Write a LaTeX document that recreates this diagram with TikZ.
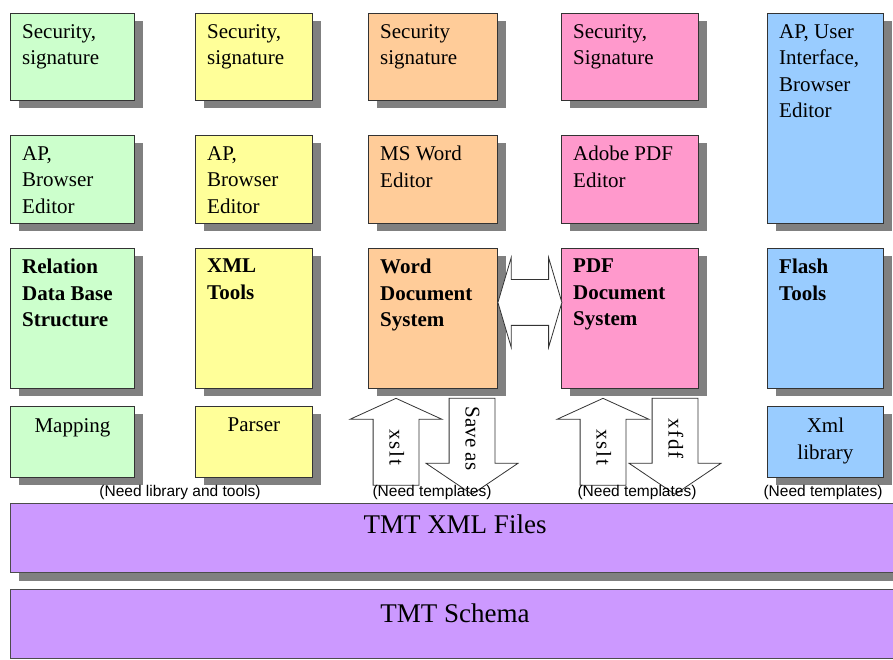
\documentclass[tikz,border=0pt]{standalone}
\usepackage{fontspec}
\setmainfont{Liberation Serif}
\newfontfamily\notefont{Liberation Sans}
\usetikzlibrary{positioning, shadows, shapes.arrows}

\definecolor{grn}{HTML}{CCFFCC}
\definecolor{ylw}{HTML}{FFFF99}
\definecolor{org}{HTML}{FFCC99}
\definecolor{pnk}{HTML}{FF99CC}
\definecolor{blu}{HTML}{99CCFF}
\definecolor{prp}{HTML}{CC99FF}

\tikzset{
  cell/.style={draw=black!80, line width=0.9pt, fill=#1, anchor=north west, inner sep=0pt,
    drop shadow={shadow xshift=9pt, shadow yshift=-8pt, fill=black!50, opacity=1}},
  txt/.style={font=\fontsize{21}{26.5}\selectfont, align=left, inner sep=0pt},
  btxt/.style={txt, font=\fontsize{21}{26.5}\selectfont\bfseries},
  big/.style={font=\fontsize{27}{32}\selectfont, inner sep=0pt},
  note/.style={font=\notefont\fontsize{15.5}{18}\selectfont, inner sep=0pt},
  bar/.style={draw=black!70, line width=1pt, fill=prp, anchor=north west, inner sep=0pt,
    minimum width=890pt, minimum height=69pt},
  blk/.style={draw=black!80, line width=0.8pt, fill=white, rotate=-90, inner xsep=2pt,
    inner ysep=16pt, text height=13pt, text depth=0pt, font=\fontsize{21}{24}\selectfont},
  uparr/.style={blk, single arrow, shape border rotate=180, single arrow head extend=23pt,
    single arrow tip angle=131, minimum height=87pt, anchor=tip},
  dnarr/.style={blk, single arrow, single arrow head extend=23pt,
    single arrow tip angle=112, minimum height=96pt, anchor=tail},
  dblarr/.style={double arrow, draw=black!80, line width=0.8pt, fill=white, inner xsep=0pt,
    inner ysep=22.5pt, text height=0pt, text depth=0pt, minimum height=64pt,
    double arrow head extend=22pt, double arrow tip angle=147}
}

\begin{document}
\begin{tikzpicture}[x=1pt, y=-1pt]
\useasboundingbox (0,0) rectangle (893,660);
\clip (0,0) rectangle (893,660);

% boxes, column by column
\foreach \c/\x/\w/\col in {g/10/124/grn, y/195/117/ylw, o/368/129/org, p/561/137/pnk}{
  \node[cell=\col, minimum width=\w pt, minimum height=87pt] (\c1) at (\x,13) {};
  \node[cell=\col, minimum width=\w pt, minimum height=88pt] (\c2) at (\x,135) {};
  \node[cell=\col, minimum width=\w pt, minimum height=140pt] (\c3) at (\x,248) {};
}
\node[cell=grn, minimum width=124pt, minimum height=71pt] (g4) at (10,406) {};
\node[cell=ylw, minimum width=117pt, minimum height=71pt] (y4) at (195,406) {};
\node[cell=blu, minimum width=116pt, minimum height=210pt] (b1) at (767,13) {};
\node[cell=blu, minimum width=116pt, minimum height=140pt] (b3) at (767,248) {};
\node[cell=blu, minimum width=116pt, minimum height=71pt] (b4) at (767,406) {};

% box texts
\node[txt, below right=11pt and 12pt of g1.north west] (g1t) {Security,\\signature};
\node[txt, below right=11pt and 12pt of y1.north west] (y1t) {Security,\\signature};
\node[txt, below right=11pt and 12pt of o1.north west] (o1t) {Security\\signature};
\node[txt, below right=11pt and 12pt of p1.north west] (p1t) {Security,\\Signature};
\node[txt, below right=11pt and 12pt of b1.north west] (b1t) {AP, User\\Interface,\\Browser\\Editor};
\node[txt, below right=11pt and 12pt of g2.north west] (g2t) {AP,\\Browser\\Editor};
\node[txt, below right=11pt and 12pt of y2.north west] (y2t) {AP,\\Browser\\Editor};
\node[txt, below right=11pt and 12pt of o2.north west] (o2t) {MS Word\\Editor};
\node[txt, below right=11pt and 12pt of p2.north west] (p2t) {Adobe PDF\\Editor};
\node[btxt, below right=11pt and 12pt of g3.north west] (g3t) {Relation\\Data Base\\Structure};
\node[btxt, below right=11pt and 12pt of y3.north west] (y3t) {XML\\Tools};
\node[btxt, below right=11pt and 12pt of o3.north west] (o3t) {Word\\Document\\System};
\node[btxt, below right=11pt and 12pt of p3.north west] (p3t) {PDF\\Document\\System};
\node[btxt, below right=11pt and 12pt of b3.north west] (b3t) {Flash\\Tools};
\node[txt, align=center, below=12pt of g4.north] (g4t) {Mapping};
\node[txt, align=center, below=12pt of y4.north] (y4t) {Parser};
\node[txt, align=center, below=12pt of b4.north] (b4t) {Xml\\library};

% block arrows
\node[dblarr] (link) at ([xshift=32pt, yshift=16pt]o3.east) {};
\node[uparr] (oup) at ([xshift=28pt, yshift=-9pt]o3.south west) {\addfontfeature{LetterSpace=9}xslt};
\node[dnarr] (odn) at ([xshift=104pt, yshift=-9pt]o3.south west) {Save as};
\node[uparr] (pup) at ([xshift=42pt, yshift=-9pt]p3.south west) {\addfontfeature{LetterSpace=9}xslt};
\node[dnarr] (pdn) at ([xshift=114pt, yshift=-9pt]p3.south west) {\addfontfeature{LetterSpace=9}xfdf};

% notes
\node[note] (n1) at (180,492) {(Need library and tools)};
\node[note] (n2) at (432,492) {(Need templates)};
\node[note] (n3) at (637,492) {(Need templates)};
\node[note] (n4) at (823,492) {(Need templates)};

% base layers
\node[bar, drop shadow={shadow xshift=8pt, shadow yshift=-8pt, fill=black!50, opacity=1}] (xml) at (10,503) {};
\node[bar] (schema) at (10,589) {};
\node[big, anchor=base] (xmlt) at (455,533) {TMT XML Files};
\node[big, anchor=base] (schemat) at (455,622) {TMT Schema};
\end{tikzpicture}
\end{document}
